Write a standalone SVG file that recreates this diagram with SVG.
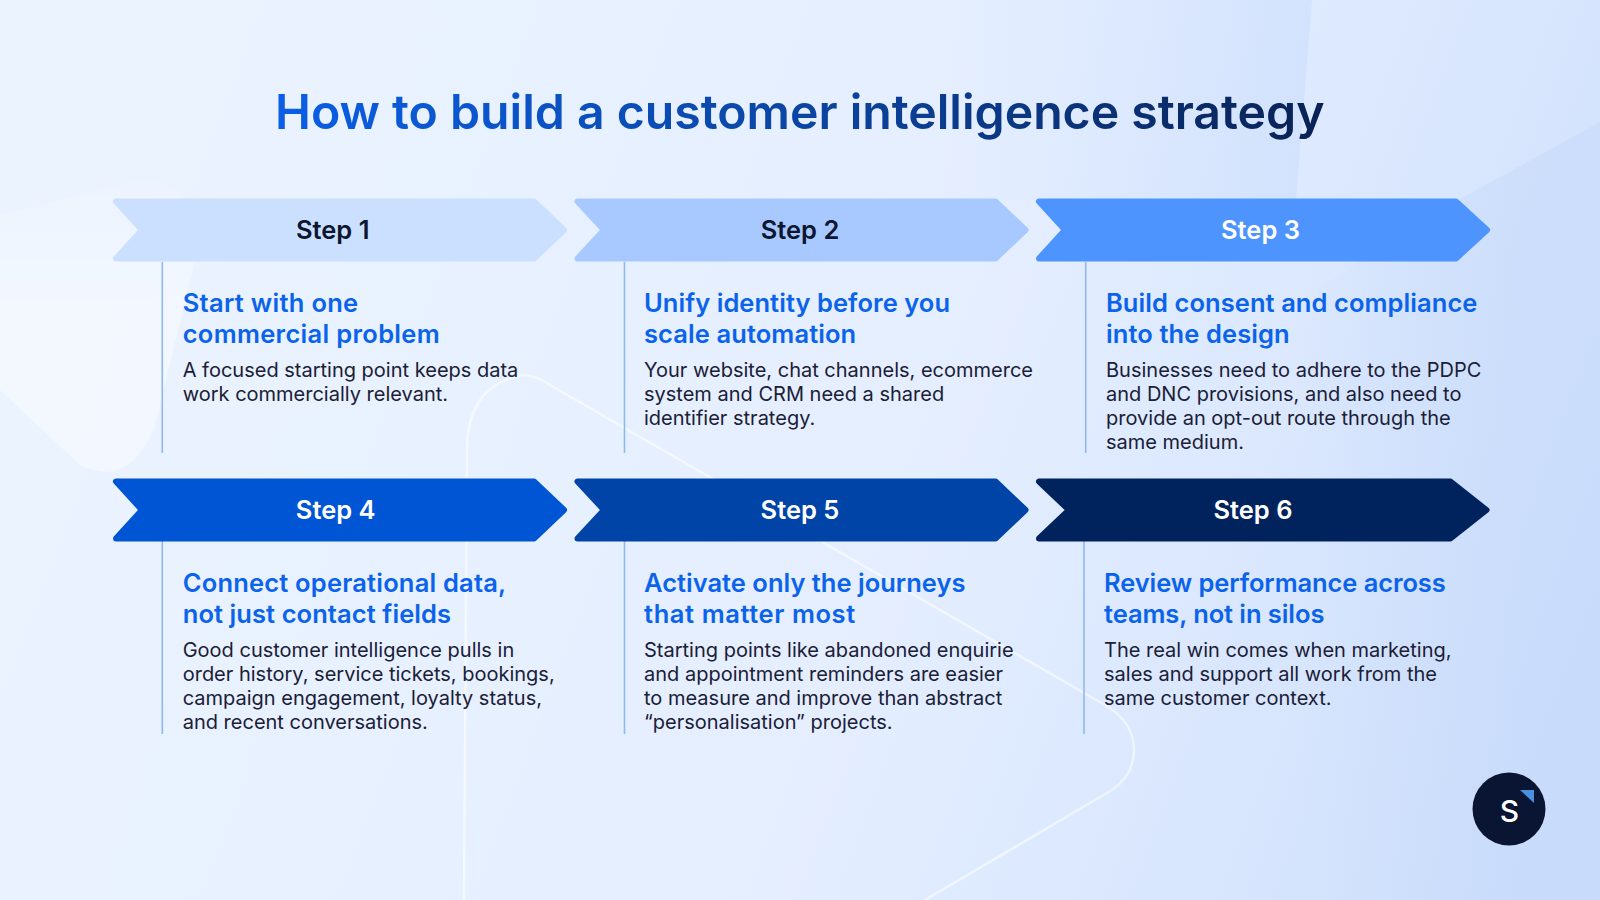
<svg xmlns="http://www.w3.org/2000/svg" width="1600" height="900" viewBox="0 0 1600 900">
<defs>
<linearGradient id="bg" gradientUnits="userSpaceOnUse" x1="150" y1="100" x2="1600" y2="650"><stop offset="0" stop-color="#ebf3ff"/><stop offset="0.55" stop-color="#e4eeff"/><stop offset="1" stop-color="#cfe0fc"/></linearGradient>
<linearGradient id="ttl" gradientUnits="userSpaceOnUse" x1="275" y1="90" x2="1325" y2="140"><stop offset="0" stop-color="#0a5fe6"/><stop offset="0.5" stop-color="#0b45a3"/><stop offset="1" stop-color="#0a2255"/></linearGradient>
<linearGradient id="fadeTop" gradientUnits="userSpaceOnUse" x1="930" y1="0" x2="1312" y2="0"><stop offset="0" stop-color="#c2d7fb" stop-opacity="0"/><stop offset="1" stop-color="#c2d7fb" stop-opacity=".38"/></linearGradient>
<linearGradient id="fadeRight" gradientUnits="userSpaceOnUse" x1="1300" y1="0" x2="1520" y2="0"><stop offset="0" stop-color="#bcd3f8" stop-opacity="0"/><stop offset="1" stop-color="#bcd3f8" stop-opacity=".35"/></linearGradient>
<linearGradient id="blob" gradientUnits="userSpaceOnUse" x1="0" y1="175" x2="0" y2="320"><stop offset="0" stop-color="#fff" stop-opacity=".08"/><stop offset="1" stop-color="#fff" stop-opacity=".42"/></linearGradient>
<style>
text{font-family:"Inter","Liberation Sans",sans-serif}
.t{font-size:48.2px;font-weight:600;fill:url(#ttl)}
.s{font-size:25.5px;font-weight:600;text-anchor:middle}
.h{font-size:25.5px;font-weight:600;fill:#0b63ec}
.b{font-size:20px;font-weight:400;fill:#1a2036}
.c{stroke-width:6;stroke-linejoin:round}
.r{stroke:#8fb8ef;stroke-width:1.6;fill:none}
.w{fill:none;stroke:#fff;stroke-opacity:.55;stroke-width:2.5}
</style>
</defs>
<rect width="1600" height="900" fill="url(#bg)"/>
<path d="M0 215L130 182Q190 172 200 240L155 425Q130 490 80 465L0 390Z" fill="url(#blob)"/>
<path d="M900 0H1312L1296 200H900Z" fill="url(#fadeTop)"/>
<path d="M1600 122L1440 210L1300 300V900H1600Z" fill="url(#fadeRight)"/>
<path class="w" d="M464 900L467 450Q467 385 523 375Q535 375 550 385L1105 705Q1134 722 1134 750Q1134 775 1112 790L925 900"/>
<g id="connectors">
<path class="r" d="M162.300 262V453M624.500 262V453M1085.700 262V453M162.300 541V734M624.500 541V734M1084 541V734"/>
</g>
<text class="t" x="275" y="129" textLength="1049.500" lengthAdjust="spacing">How to build a customer intelligence strategy</text>
<g id="step1"><path class="c" fill="#cbdfff" stroke="#cbdfff" d="M116 201.500H534L564 230L534 258.500H116L142 230Z"/><text class="s" x="332.700" y="238.500" fill="#0d1630">Step 1</text>
<text class="h" x="182.700" y="311.500" textLength="175.500">Start with one</text><text class="h" x="182.700" y="343" textLength="257">commercial problem</text>
<text class="b" x="182.700" y="376.500">A focused starting point keeps data</text><text class="b" x="182.700" y="400.500">work commercially relevant.</text></g>
<g id="step2"><path class="c" fill="#a8c9ff" stroke="#a8c9ff" d="M577.500 201.500H995.500L1025.500 230L995.500 258.500H577.500L604 230Z"/><text class="s" x="800" y="238.500" fill="#0d1630">Step 2</text>
<text class="h" x="644" y="311.500" textLength="306">Unify identity before you</text><text class="h" x="644" y="343" textLength="212.200">scale automation</text>
<text class="b" x="644" y="376.500">Your website, chat channels, ecommerce</text><text class="b" x="644" y="400.500">system and CRM need a shared</text><text class="b" x="644" y="424.500">identifier strategy.</text></g>
<g id="step3"><path class="c" fill="#4d94ff" stroke="#4d94ff" d="M1039 201.500H1456L1487 230L1456 258.500H1039L1065 230Z"/><text class="s" x="1260.500" y="238.500" fill="#fff">Step 3</text>
<text class="h" x="1106" y="311.500" textLength="371.400">Build consent and compliance</text><text class="h" x="1106" y="343" textLength="183.700">into the design</text>
<text class="b" x="1106" y="376.500">Businesses need to adhere to the PDPC</text><text class="b" x="1106" y="400.500">and DNC provisions, and also need to</text><text class="b" x="1106" y="424.500">provide an opt-out route through the</text><text class="b" x="1106" y="448.500">same medium.</text></g>
<g id="step4"><path class="c" fill="#0055d4" stroke="#0055d4" d="M116 481.500H534L564 510L534 538.500H116L142 510Z"/><text class="s" x="335.700" y="518.500" fill="#fff">Step 4</text>
<text class="h" x="182.700" y="591.500" textLength="323.500">Connect operational data,</text><text class="h" x="182.700" y="623" textLength="268.400">not just contact fields</text>
<text class="b" x="182.700" y="656.500">Good customer intelligence pulls in</text><text class="b" x="182.700" y="680.500">order history, service tickets, bookings,</text><text class="b" x="182.700" y="704.500">campaign engagement, loyalty status,</text><text class="b" x="182.700" y="728.500">and recent conversations.</text></g>
<g id="step5"><path class="c" fill="#0044a8" stroke="#0044a8" d="M577.500 481.500H995.500L1025.500 510L995.500 538.500H577.500L604 510Z"/><text class="s" x="800" y="518.500" fill="#fff">Step 5</text>
<text class="h" x="644" y="591.500" textLength="321.400">Activate only the journeys</text><text class="h" x="644" y="623" textLength="211.200">that matter most</text>
<text class="b" x="644" y="656.500">Starting points like abandoned enquirie</text><text class="b" x="644" y="680.500">and appointment reminders are easier</text><text class="b" x="644" y="704.500">to measure and improve than abstract</text><text class="b" x="644" y="728.500">“personalisation” projects.</text></g>
<g id="step6"><path class="c" fill="#00235e" stroke="#00235e" d="M1039 481.500H1450.500L1486.500 510L1450.500 538.500H1039L1069 510Z"/><text class="s" x="1253" y="518.500" fill="#fff">Step 6</text>
<text class="h" x="1104" y="591.500" textLength="341.800">Review performance across</text><text class="h" x="1104" y="623" textLength="220.400">teams, not in silos</text>
<text class="b" x="1104" y="656.500">The real win comes when marketing,</text><text class="b" x="1104" y="680.500">sales and support all work from the</text><text class="b" x="1104" y="704.500">same customer context.</text></g>
<g id="logo"><circle cx="1509" cy="809" r="36.500" fill="#0a1433"/><path d="M1520 790H1534V803Z" fill="#4a90e0"/><text x="1509.500" y="821.500" text-anchor="middle" font-size="30" font-weight="500" fill="#fff">S</text></g>
</svg>
